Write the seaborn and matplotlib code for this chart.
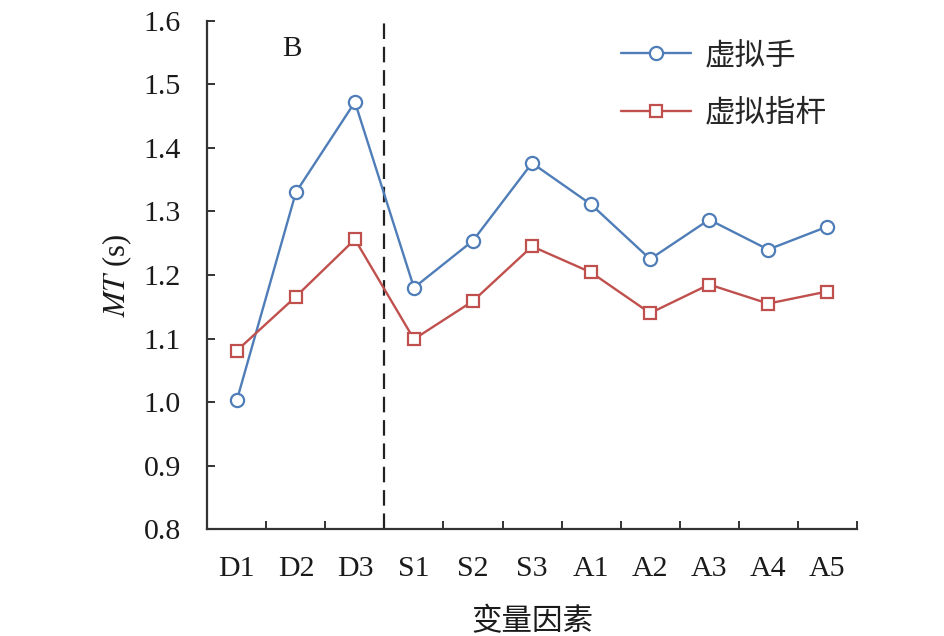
import numpy as np
import pandas as pd
import matplotlib
matplotlib.use("Agg")
import matplotlib.pyplot as plt
import seaborn as sns
from matplotlib.ticker import FixedLocator

# data
factors = ["D1", "D2", "D3", "S1", "S2", "S3", "A1", "A2", "A3", "A4", "A5"]
virtual_hand = [1.003, 1.330, 1.472, 1.180, 1.254, 1.376, 1.311, 1.225, 1.287, 1.240, 1.276]
virtual_stick = [1.081, 1.166, 1.256, 1.099, 1.159, 1.245, 1.204, 1.140, 1.185, 1.155, 1.174]
series_names = ["虚拟手", "虚拟指杆"]
yticks = [0.8, 0.9, 1.0, 1.1, 1.2, 1.3, 1.4, 1.5, 1.6]

sns.set_theme(style="white")
plt.rcParams["font.family"] = ["Liberation Serif", "Noto Sans CJK SC"]
plt.rcParams["mathtext.fontset"] = "stix"

df = pd.DataFrame({"pos": np.arange(len(factors)), "hand": virtual_hand, "stick": virtual_stick})

fig = plt.figure(figsize=(9.45, 6.36), dpi=100)
ax = fig.add_axes([0.2194, 0.1678, 0.9066 - 0.2194, 0.9675 - 0.1678])

blue = "#4F7DB8"
red = "#C0504D"
sns.lineplot(data=df, x="pos", y="hand", ax=ax, color=blue, marker="o", markersize=9.5,
             markerfacecolor="white", markeredgecolor=blue, markeredgewidth=1.6,
             linewidth=1.7, label=series_names[0])
sns.lineplot(data=df, x="pos", y="stick", ax=ax, color=red, marker="s", markersize=9,
             markerfacecolor="white", markeredgecolor=red, markeredgewidth=1.6,
             linewidth=1.7, label=series_names[1])

# divider between D group and the rest
ax.axvline(2.5, color="#222222", lw=1.6, ls=(0, (7, 3.5)), zorder=1)

ax.set_xlim(-0.5, 10.5)
ax.set_ylim(0.8, 1.6)
ax.set_yticks(yticks)
ax.set_yticklabels([f"{v:.1f}" for v in yticks])
ax.set_xticks(np.arange(len(factors)))
ax.set_xticklabels(factors)
ax.xaxis.set_minor_locator(FixedLocator(np.arange(-0.5, 11, 1)))

for side in ["top", "right"]:
    ax.spines[side].set_visible(False)
for side in ["left", "bottom"]:
    ax.spines[side].set_color("#333333")
    ax.spines[side].set_linewidth(1.6)

ax.tick_params(axis="x", which="major", length=0, pad=19, labelsize=21.5, colors="#1a1a1a")
ax.tick_params(axis="x", which="minor", direction="in", length=5.5, width=1.4, color="#333333", bottom=True)
ax.tick_params(axis="y", which="major", direction="in", length=5.5, width=1.4, color="#333333",
               pad=19, labelsize=21.5, labelcolor="#1a1a1a", left=True)

ax.set_xlabel("变量因素", fontsize=22, labelpad=19, color="#1a1a1a")
ax.set_ylabel(r"$MT$ (s)", fontsize=22, labelpad=7, color="#1a1a1a")

ax.text(0.93, 1.555, "B", fontsize=21, ha="center", va="center", color="#1a1a1a")

leg = ax.legend(loc="upper left", bbox_to_anchor=(0.594, 1.012), frameon=False, fontsize=22,
                handlelength=2.3, handletextpad=0.45, labelspacing=0.93)

fig.savefig("out.png", dpi=100, facecolor="white")
